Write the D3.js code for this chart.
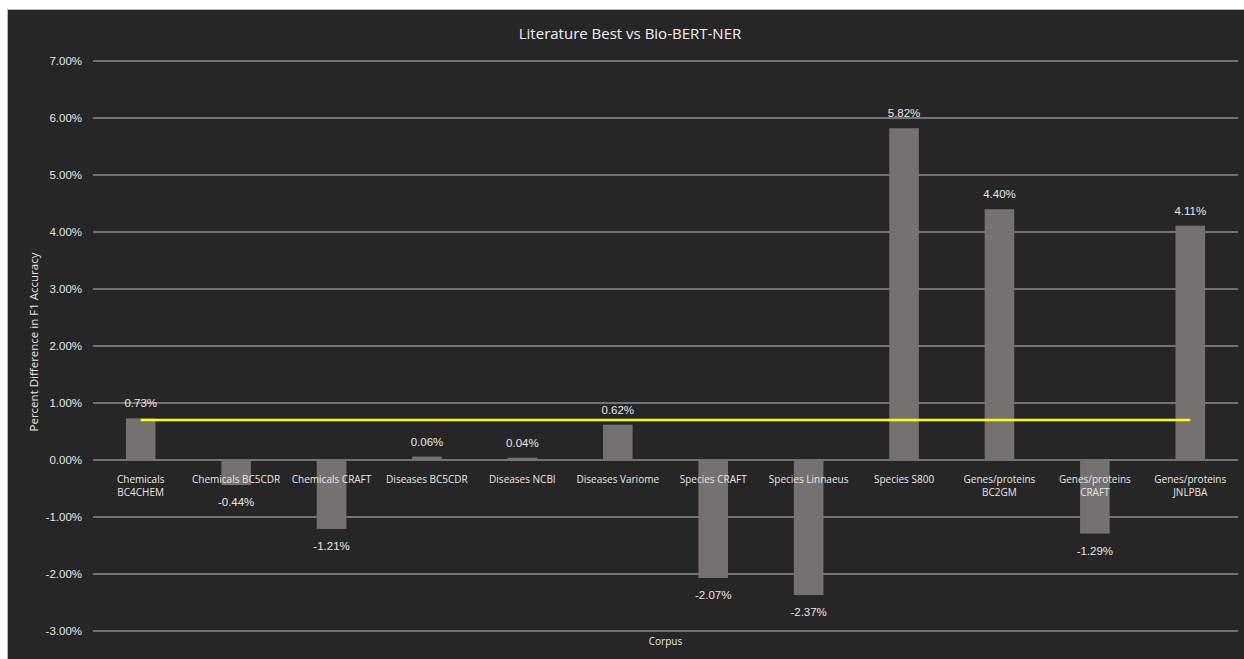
<!DOCTYPE html>
<html>
<head>
<meta charset="utf-8">
<script src="https://cdn.jsdelivr.net/npm/d3@7"></script>
<style>
  body { margin: 0; background: #ffffff; }
  svg { display: block; }
</style>
</head>
<body>
<script>
// chart data
var corpora = [
  ["Chemicals", "BC4CHEM"],
  ["Chemicals BC5CDR"],
  ["Chemicals CRAFT"],
  ["Diseases BC5CDR"],
  ["Diseases NCBI"],
  ["Diseases Variome"],
  ["Species CRAFT"],
  ["Species Linnaeus"],
  ["Species S800"],
  ["Genes/proteins", "BC2GM"],
  ["Genes/proteins", "CRAFT"],
  ["Genes/proteins", "JNLPBA"]
];
var diffs = [0.73, -0.44, -1.21, 0.06, 0.04, 0.62, -2.07, -2.37, 5.82, 4.40, -1.29, 4.11];
var avgLine = [0.70, 0.70, 0.70, 0.70, 0.70, 0.70, 0.70, 0.70, 0.70, 0.70, 0.70, 0.70];
var yTicks = [-3, -2, -1, 0, 1, 2, 3, 4, 5, 6, 7];

var w = 1244, h = 659;
var svg = d3.select("body").append("svg")
  .attr("width", w)
  .attr("height", h);

// dark panel
svg.append("rect")
  .attr("x", 7.5).attr("y", 9.5)
  .attr("width", w).attr("height", h)
  .attr("fill", "#262626")
  .attr("stroke", "#b8b8b8")
  .attr("stroke-width", 1);

var plotLeft = 93, plotRight = 1238, plotTop = 61, plotBottom = 631;

var y = d3.scaleLinear().domain([-3, 7]).range([plotBottom, plotTop]);
var x = d3.scaleBand().domain(d3.range(corpora.length)).range([plotLeft, plotRight]).padding(0);
var barW = x.bandwidth() * 0.31;

// gridlines
svg.append("g").selectAll("line")
  .data(yTicks)
  .join("line")
  .attr("x1", plotLeft).attr("x2", plotRight)
  .attr("y1", function(d){ return y(d); })
  .attr("y2", function(d){ return y(d); })
  .attr("stroke", "#8c8c8c")
  .attr("stroke-width", 1.5);

// y tick labels
svg.append("g").selectAll("text")
  .data(yTicks)
  .join("text")
  .attr("x", 82)
  .attr("y", function(d){ return y(d); })
  .attr("dy", "0.35em")
  .attr("text-anchor", "end")
  .attr("fill", "#e6e6e6")
  .style("font", "11.5px 'Liberation Sans', Arial, sans-serif")
  .text(function(d){ return d.toFixed(2) + "%"; });

// bars
svg.append("g").selectAll("rect")
  .data(diffs)
  .join("rect")
  .attr("x", function(d, i){ return x(i) + x.bandwidth()/2 - barW/2; })
  .attr("width", barW)
  .attr("y", function(d){ return y(Math.max(0, d)); })
  .attr("height", function(d){ return Math.abs(y(d) - y(0)); })
  .attr("fill", "#767171");

// average line
var line = d3.line()
  .x(function(d, i){ return x(i) + x.bandwidth()/2; })
  .y(function(d){ return y(d); });
svg.append("path")
  .datum(avgLine)
  .attr("d", line)
  .attr("fill", "none")
  .attr("stroke", "#ffff00")
  .attr("stroke-width", 2.5);

// value labels
svg.append("g").selectAll("text")
  .data(diffs)
  .join("text")
  .attr("x", function(d, i){ return x(i) + x.bandwidth()/2; })
  .attr("y", function(d){ return d >= 0 ? y(d) - 15 : y(d) + 17; })
  .attr("dy", "0.35em")
  .attr("text-anchor", "middle")
  .attr("fill", "#e6e6e6")
  .style("font", "11.5px 'Liberation Sans', Arial, sans-serif")
  .text(function(d){ return d.toFixed(2) + "%"; });

// category labels
var cat = svg.append("g").selectAll("text")
  .data(corpora)
  .join("text")
  .attr("x", function(d, i){ return x(i) + x.bandwidth()/2; })
  .attr("y", 483)
  .attr("text-anchor", "middle")
  .attr("fill", "#e6e6e6")
  .style("font", "10px 'Open Sans', sans-serif");
cat.selectAll("tspan")
  .data(function(d){ return d; })
  .join("tspan")
  .attr("x", function(){ return d3.select(this.parentNode).attr("x"); })
  .attr("dy", function(d, i){ return i === 0 ? 0 : 13; })
  .text(function(d){ return d; });

// titles
svg.append("text")
  .attr("x", 630).attr("y", 39)
  .attr("text-anchor", "middle")
  .attr("fill", "#f0f0f0")
  .style("font", "15px 'Open Sans', sans-serif")
  .text("Literature Best vs Bio-BERT-NER");

svg.append("text")
  .attr("transform", "translate(38,342) rotate(-90)")
  .attr("text-anchor", "middle")
  .attr("fill", "#e6e6e6")
  .style("font", "11.5px 'Open Sans', sans-serif")
  .text("Percent Difference in F1 Accuracy");

svg.append("text")
  .attr("x", (plotLeft + plotRight) / 2).attr("y", 645)
  .attr("text-anchor", "middle")
  .attr("fill", "#e6e6e6")
  .style("font", "10px 'Open Sans', sans-serif")
  .text("Corpus");
</script>
</body>
</html>
